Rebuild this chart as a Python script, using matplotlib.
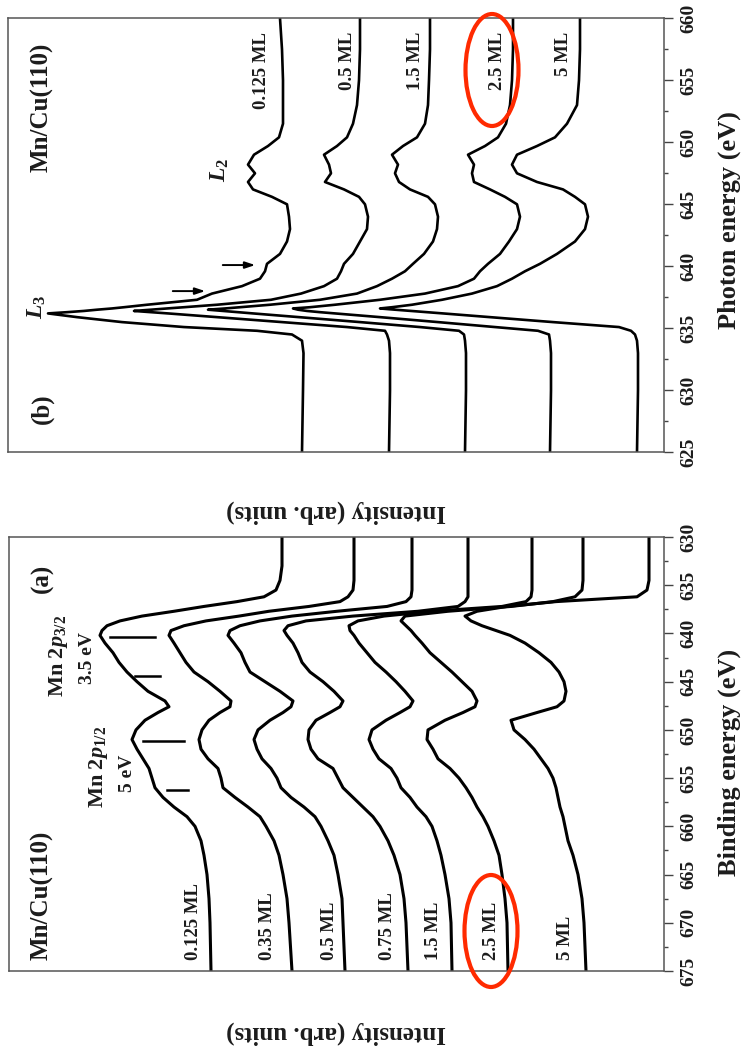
import numpy as np
import matplotlib.pyplot as plt
from matplotlib.patches import Ellipse
from matplotlib.ticker import MultipleLocator

plt.rcParams['font.family'] = 'Liberation Serif'
plt.rcParams['font.weight'] = 'bold'
plt.rcParams['mathtext.fontset'] = 'custom'
plt.rcParams['mathtext.rm'] = 'Liberation Serif:bold'
plt.rcParams['mathtext.it'] = 'Liberation Serif:italic:bold'
plt.rcParams['mathtext.bf'] = 'Liberation Serif:bold'

# ---- panel (b): XAS, photon energy (eV) ----
xas_energy = [625, 630, 633, 634, 634.5, 634.8, 635.1, 635.5, 635.9, 636.2, 636.3, 636.4,
              636.5, 636.6, 636.7, 636.9, 637.3, 637.8, 638.4, 639.0, 639.6, 640.2, 641,
              642, 643, 644, 645, 645.6, 646.2, 646.8, 647.5, 648.2, 649, 649.7, 650.4,
              651.5, 653, 655, 657.5, 660]
xas_labels = ['0.125 ML', '0.5 ML', '1.5 ML', '2.5 ML', '5 ML']
xas_offsets = [362, 275, 199, 114, 27]
xas_0125 = [0, -1, -1.5, 0, 10, 45, 118, 180, 225, 254, 235, 218, 205, 190, 178, 155, 105,
            90, 60, 42, 37, 35, 22, 15, 12, 13, 15, 30, 49, 54, 47, 54, 48, 34, 23, 19, 19,
            19, 20, 22]
xas_05 = [0, -1, -1, 0, 2, 4, 42, 107, 172, 221, 238, 255, 238, 222, 205, 172, 118, 88, 65,
          52, 48, 45, 36, 29, 22, 21, 24, 30, 45, 64, 58, 60, 65, 52, 42, 36, 32, 30, 29, 29]
xas_15 = [0, -1, -1, 0, 1, 6, 45, 105, 166, 212, 227, 242, 257, 240, 225, 195, 145, 108, 88,
          73, 60, 52, 41, 32, 28, 27, 30, 37, 55, 66, 70, 67, 73, 62, 48, 40, 37, 36, 35, 35]
xas_25 = [0, -1, -1, 0, 1, 12, 55, 112, 170, 215, 230, 243, 252, 257, 240, 215, 170, 125, 92,
          76, 70, 62, 50, 41, 33, 30, 33, 45, 60, 76, 78, 76, 82, 65, 52, 44, 40, 38, 37, 37]
xas_5 = [0, -1, -1, 0, 2, 6, 18, 84, 147, 194, 210, 226, 242, 257, 245, 225, 195, 165, 140,
         125, 112, 97, 80, 62, 52, 49, 52, 62, 74, 100, 120, 125, 120, 100, 82, 70, 60, 58,
         57, 57]
xas_curves = [xas_0125, xas_05, xas_15, xas_25, xas_5]

# ---- panel (a): XPS, binding energy (eV) ----
xps_energy = [630, 633, 634.5, 635.5, 636.2, 636.7, 637.2, 637.7, 638.2, 638.7, 639.2, 639.7,
              640.2, 641, 642, 643, 644, 645, 646, 647, 647.6, 648.2, 649, 650, 651, 652,
              653, 654, 655, 656, 657, 658, 659, 660, 661.5, 663, 665, 667.5, 670, 675]
xps_labels = ['0.125 ML', '0.35 ML', '0.5 ML', '0.75 ML', '1.5 ML', '2.5 ML', '5 ML']
xps_offsets = [382, 310, 252, 196, 132, 81, 15]
xps_0125 = [0, 0, 2, 6, 18, 45, 78, 108, 140, 162, 175, 180, 182, 177, 169, 163, 155, 145,
            134, 117, 113, 124, 137, 146, 150, 145, 139, 133, 130, 127, 119, 108, 95, 87, 81,
            78, 75, 73, 72, 71]
xps_035 = [0, 0, 0, 1, 6, 14, 45, 85, 115, 148, 170, 183, 185, 180, 174, 168, 160, 146, 134,
           123, 124, 134, 145, 152, 155, 153, 146, 136, 133, 131, 119, 106, 94, 88, 80, 75,
           71, 67, 65, 62]
xps_05 = [0, 0, 0, 0, 1, 6, 25, 75, 120, 152, 172, 182, 184, 178, 171, 167, 162, 147, 132,
          119, 121, 129, 142, 154, 158, 155, 150, 141, 135, 131, 121, 108, 97, 91, 84, 78, 74,
          70, 69, 67]
xps_075 = [0, 0, 0, 0, 0, 3, 10, 50, 115, 162, 180, 184, 181, 175, 170, 166, 158, 145, 134,
           125, 128, 138, 152, 159, 160, 157, 150, 135, 130, 125, 115, 105, 95, 88, 80, 74,
           68, 64, 62, 60]
xps_15 = [0, 0, 0, 0, 1, 6, 30, 100, 148, 174, 183, 182, 178, 173, 165, 157, 146, 136, 127,
          119, 122, 132, 146, 160, 163, 159, 153, 141, 135, 131, 122, 115, 106, 100, 95, 91,
          87, 83, 81, 80]
xps_25 = [0, 0, 0, 1, 8, 30, 72, 135, 178, 182, 177, 172, 168, 161, 153, 142, 131, 121, 111,
          106, 108, 120, 138, 155, 156, 150, 145, 133, 124, 117, 111, 106, 100, 95, 89, 84,
          81, 78, 76, 75]
xps_5 = [0, 0, 0, 2, 12, 93, 142, 172, 184, 178, 167, 153, 139, 124, 110, 98, 90, 85, 83, 85,
         92, 112, 138, 135, 124, 115, 108, 101, 96, 93, 91, 89, 86, 84, 81, 76, 71, 67, 65, 63]
xps_curves = [xps_0125, xps_035, xps_05, xps_075, xps_15, xps_25, xps_5]

W, H = 744, 1057
txt = '#1c1c1c'


def fx(x):
    return x / W


def fy(y):
    return 1 - y / H


fig = plt.figure(figsize=(W / 100, H / 100), dpi=100)

ax_b = fig.add_axes([fx(8.3), fy(452.3), (664 - 8.3) / W, (452.3 - 18.3) / H])
ax_a = fig.add_axes([fx(9), fy(971), (664 - 9) / W, (971 - 537) / H])

for off, vals in zip(xas_offsets, xas_curves):
    ax_b.plot(off + np.array(vals), xas_energy, color='k', lw=1.9, solid_joinstyle='round')
for off, vals in zip(xps_offsets, xps_curves):
    ax_a.plot(off + np.array(vals), xps_energy, color='k', lw=2.2, solid_joinstyle='round')

ax_b.set_xlim(664 - 8.3, 0)
ax_b.set_ylim(625, 660)
ax_a.set_xlim(664 - 9, 0)
ax_a.set_ylim(675, 630)

for ax in (ax_a, ax_b):
    ax.set_xticks([])
    ax.yaxis.tick_right()
    ax.yaxis.set_major_locator(MultipleLocator(5))
    ax.yaxis.set_minor_locator(MultipleLocator(2.5))
    ax.tick_params(axis='y', which='major', direction='out', length=6.5, width=1.0,
                   color='#444444', labelsize=14, labelrotation=90, pad=5, labelcolor=txt)
    ax.tick_params(axis='y', which='minor', direction='out', length=3, width=1.0,
                   color='#444444')
    for s in ax.spines.values():
        s.set_color('#555555')
        s.set_linewidth(1.1)
    plt.setp(ax.get_yticklabels(), va='center')

# axis titles
fig.text(fx(729), fy(220), 'Photon energy (eV)', rotation=90, ha='center', va='center',
         fontsize=19, color=txt)
fig.text(fx(729), fy(762), 'Binding energy (eV)', rotation=90, ha='center', va='center',
         fontsize=19, color=txt)
fig.text(fx(336), fy(512), 'Intensity (arb. units)', rotation=180, ha='center', va='center',
         fontsize=18, color=txt)
fig.text(fx(336), fy(1033), 'Intensity (arb. units)', rotation=180, ha='center', va='center',
         fontsize=18, color=txt)

# panel titles
fig.text(fx(42), fy(107), 'Mn/Cu(110)', rotation=90, ha='center', va='center', fontsize=18,
         color=txt)
fig.text(fx(42), fy(409), '(b)', rotation=90, ha='center', va='center', fontsize=18, color=txt)
fig.text(fx(42), fy(578), '(a)', rotation=90, ha='center', va='center', fontsize=18, color=txt)
fig.text(fx(42), fy(895), 'Mn/Cu(110)', rotation=90, ha='center', va='center', fontsize=18,
         color=txt)

# coverage labels
xas_label_x = [262, 348, 416, 497, 563]
for lx, lab in zip(xas_label_x, xas_labels):
    fig.text(fx(lx), fy(32), lab, rotation=90, ha='center', va='top', fontsize=13.5, color=txt)
xps_label_x = [194, 267, 330, 387, 434, 491, 566]
for lx, lab in zip(xps_label_x, xps_labels):
    fig.text(fx(lx), fy(960), lab, rotation=90, ha='center', va='bottom', fontsize=13.5,
             color=txt)

# edge labels and arrows in (b)
fig.text(fx(37), fy(307), r'$L_3$', rotation=90, ha='center', va='center', fontsize=17,
         color=txt)
fig.text(fx(220), fy(170), r'$L_2$', rotation=90, ha='center', va='center', fontsize=17,
         color=txt)
arrow_e = [640.1, 638.0]
arrow_start = [444, 494]
arrow_end = [406, 456]
for e, a0, a1 in zip(arrow_e, arrow_start, arrow_end):
    ax_b.annotate('', xy=(a1, e), xytext=(a0, e),
                  arrowprops=dict(arrowstyle='-|>,head_length=0.6,head_width=0.2',
                                  color='k', lw=1.4))

# (a) annotations
fig.text(fx(58), fy(656), r'Mn 2$p_{3/2}$', rotation=90, ha='center', va='center',
         fontsize=16, color=txt)
fig.text(fx(87), fy(658), '3.5 eV', rotation=90, ha='center', va='center', fontsize=14,
         color=txt)
fig.text(fx(98), fy(767), r'Mn 2$p_{1/2}$', rotation=90, ha='center', va='center',
         fontsize=16, color=txt)
fig.text(fx(128), fy(773), '5 eV', rotation=90, ha='center', va='center', fontsize=14,
         color=txt)
mark_e = [640.4, 644.4, 651.15, 656.2]
mark_lo = [509, 504, 480, 476]
mark_hi = [554, 529, 521, 497]
for e, lo, hi in zip(mark_e, mark_lo, mark_hi):
    ax_a.plot([lo, hi], [e, e], color='k', lw=1.8)

# red ellipses around the 2.5 ML labels
for cx, cy in [(492, 70), (491, 931)]:
    fig.add_artist(Ellipse((fx(cx), fy(cy)), 53 / W, 112 / H, transform=fig.transFigure,
                           fill=False, edgecolor='#ff2a00', lw=3.0, zorder=10))

fig.savefig('out.png', dpi=100)
